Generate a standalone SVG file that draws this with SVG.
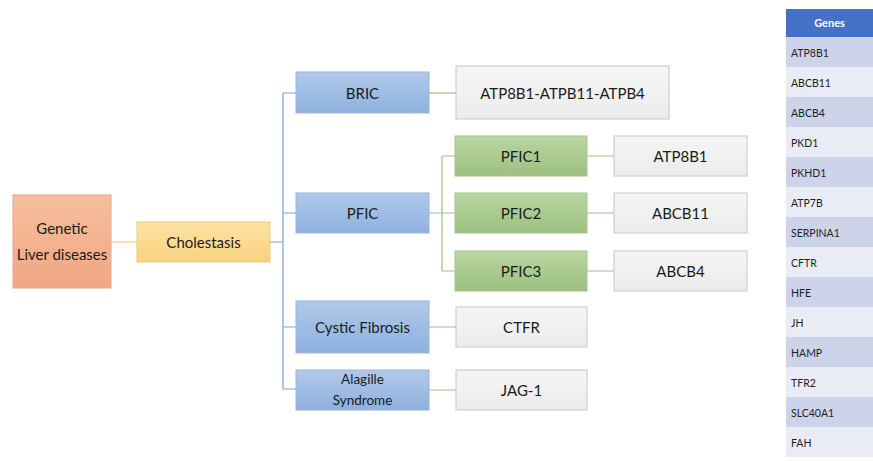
<svg xmlns="http://www.w3.org/2000/svg" width="873" height="461" viewBox="0 0 873 461">
  <defs>
    <linearGradient id="gOrange" x1="0" y1="0" x2="0" y2="1">
      <stop offset="0" stop-color="#f6bf9d"/>
      <stop offset="1" stop-color="#f2a682"/>
    </linearGradient>
    <linearGradient id="gYellow" x1="0" y1="0" x2="0" y2="1">
      <stop offset="0" stop-color="#fde2a2"/>
      <stop offset="1" stop-color="#f9d280"/>
    </linearGradient>
    <linearGradient id="gBlue" x1="0" y1="0" x2="0" y2="1">
      <stop offset="0" stop-color="#b1c9ea"/>
      <stop offset="1" stop-color="#8eb0df"/>
    </linearGradient>
    <linearGradient id="gGreen" x1="0" y1="0" x2="0" y2="1">
      <stop offset="0" stop-color="#bad6a3"/>
      <stop offset="1" stop-color="#9bc080"/>
    </linearGradient>
    <linearGradient id="gGray" x1="0" y1="0" x2="0" y2="1">
      <stop offset="0" stop-color="#f5f5f5"/>
      <stop offset="1" stop-color="#ececec"/>
    </linearGradient>
  </defs>
  <style>
    text { font-family: Lato, "Open Sans", "Liberation Sans", sans-serif; fill: #1a1a1a; }
    .lbl { font-size: 15px; text-anchor: middle; dominant-baseline: central; }
    .orange { fill: url(#gOrange); stroke: #dcaa8e; stroke-width: 1; }
    .yellow { fill: url(#gYellow); stroke: #e6c98a; stroke-width: 1; }
    .blue { fill: url(#gBlue); stroke: #9ab4da; stroke-width: 1; }
    .green { fill: url(#gGreen); stroke: #a6c390; stroke-width: 1; }
    .gray { fill: url(#gGray); stroke: #c6c6c6; stroke-width: 1; }
    .cy { stroke: #f3cf7c; stroke-width: 1.2; fill: none; }
    .cb { stroke: #7fa2cf; stroke-width: 1.2; fill: none; }
    .cg { stroke: #9fbf85; stroke-width: 1.2; fill: none; }
    .hdr { fill: #4472c4; }
    .rowA { fill: #cdd4ea; }
    .rowB { fill: #e9ebf5; }
    .th { font-size: 11px; font-weight: bold; fill: #ffffff; text-anchor: middle; dominant-baseline: central; }
    .td { font-size: 10.5px; fill: #1f1f1f; dominant-baseline: central; }
  </style>

  <!-- connectors -->
  <g id="connectors">
    <path class="cy" d="M111 242 H137"/>
    <path class="cb" d="M270 242 H283 M283 93 V389 M283 93 H296 M283 213 H296 M283 327 H296 M283 389 H296"/>
    <path class="cg" d="M429 93 H456"/>
    <path class="cg" d="M429 213 H442 M442 156 V271 M442 156 H455 M442 213 H455 M442 271 H455"/>
    <path class="cg" d="M587 156 H614 M587 213 H614 M587 271 H614"/>
    <path class="cg" d="M429 327 H456 M429 390 H456"/>
  </g>

  <!-- root and first level -->
  <g id="genetic">
    <rect class="orange" x="13" y="195" width="98" height="93"/>
    <text class="lbl" x="62" y="228">Genetic</text>
    <text class="lbl" x="62" y="254">Liver diseases</text>
  </g>
  <g id="cholestasis">
    <rect class="yellow" x="137" y="222" width="133" height="40"/>
    <text class="lbl" x="203.5" y="242">Cholestasis</text>
  </g>

  <!-- disease groups -->
  <g id="bric">
    <rect class="blue" x="296" y="72" width="133" height="41"/>
    <text class="lbl" x="362.5" y="92.5">BRIC</text>
  </g>
  <g id="pfic">
    <rect class="blue" x="296" y="193" width="133" height="40"/>
    <text class="lbl" x="362.5" y="213">PFIC</text>
  </g>
  <g id="cystic-fibrosis">
    <rect class="blue" x="296" y="301" width="133" height="52"/>
    <text class="lbl" x="362.5" y="327">Cystic Fibrosis</text>
  </g>
  <g id="alagille">
    <rect class="blue" x="296" y="370" width="133" height="40"/>
    <text class="lbl" x="362.5" y="379" style="font-size:13.5px">Alagille</text>
    <text class="lbl" x="362.5" y="400" style="font-size:13.5px">Syndrome</text>
  </g>

  <!-- PFIC subtypes -->
  <g id="pfic1">
    <rect class="green" x="455" y="136" width="132" height="40"/>
    <text class="lbl" x="521" y="156">PFIC1</text>
  </g>
  <g id="pfic2">
    <rect class="green" x="455" y="193" width="132" height="40"/>
    <text class="lbl" x="521" y="213">PFIC2</text>
  </g>
  <g id="pfic3">
    <rect class="green" x="455" y="251" width="132" height="40"/>
    <text class="lbl" x="521" y="271">PFIC3</text>
  </g>

  <!-- gene boxes -->
  <g id="gene-bric">
    <rect class="gray" x="456" y="66" width="213" height="53"/>
    <text class="lbl" x="562.5" y="92.5">ATP8B1-ATPB11-ATPB4</text>
  </g>
  <g id="gene-pfic1">
    <rect class="gray" x="614" y="136" width="133" height="40"/>
    <text class="lbl" x="680.5" y="156">ATP8B1</text>
  </g>
  <g id="gene-pfic2">
    <rect class="gray" x="614" y="193" width="133" height="40"/>
    <text class="lbl" x="680.5" y="213">ABCB11</text>
  </g>
  <g id="gene-pfic3">
    <rect class="gray" x="614" y="251" width="133" height="40"/>
    <text class="lbl" x="680.5" y="271">ABCB4</text>
  </g>
  <g id="gene-cf">
    <rect class="gray" x="456" y="307" width="131" height="40"/>
    <text class="lbl" x="521.5" y="327">CTFR</text>
  </g>
  <g id="gene-alagille">
    <rect class="gray" x="456" y="370" width="131" height="40"/>
    <text class="lbl" x="521.5" y="390">JAG-1</text>
  </g>

  <!-- gene table -->
  <g id="genes-table">
    <rect class="hdr" x="786" y="9" width="87" height="28"/>
    <text class="th" x="829.5" y="22">Genes</text>
    <rect class="rowA" x="786" y="37" width="87" height="30"/>
    <rect class="rowB" x="786" y="67" width="87" height="30"/>
    <rect class="rowA" x="786" y="97" width="87" height="30"/>
    <rect class="rowB" x="786" y="127" width="87" height="30"/>
    <rect class="rowA" x="786" y="157" width="87" height="30"/>
    <rect class="rowB" x="786" y="187" width="87" height="30"/>
    <rect class="rowA" x="786" y="217" width="87" height="30"/>
    <rect class="rowB" x="786" y="247" width="87" height="30"/>
    <rect class="rowA" x="786" y="277" width="87" height="30"/>
    <rect class="rowB" x="786" y="307" width="87" height="30"/>
    <rect class="rowA" x="786" y="337" width="87" height="30"/>
    <rect class="rowB" x="786" y="367" width="87" height="30"/>
    <rect class="rowA" x="786" y="397" width="87" height="30"/>
    <rect class="rowB" x="786" y="427" width="87" height="30"/>
    <text class="td" x="791" y="53">ATP8B1</text>
    <text class="td" x="791" y="83">ABCB11</text>
    <text class="td" x="791" y="113">ABCB4</text>
    <text class="td" x="791" y="143">PKD1</text>
    <text class="td" x="791" y="173">PKHD1</text>
    <text class="td" x="791" y="203">ATP7B</text>
    <text class="td" x="791" y="233">SERPINA1</text>
    <text class="td" x="791" y="263">CFTR</text>
    <text class="td" x="791" y="293">HFE</text>
    <text class="td" x="791" y="323">JH</text>
    <text class="td" x="791" y="353">HAMP</text>
    <text class="td" x="791" y="383">TFR2</text>
    <text class="td" x="791" y="413">SLC40A1</text>
    <text class="td" x="791" y="443">FAH</text>
  </g>
</svg>
